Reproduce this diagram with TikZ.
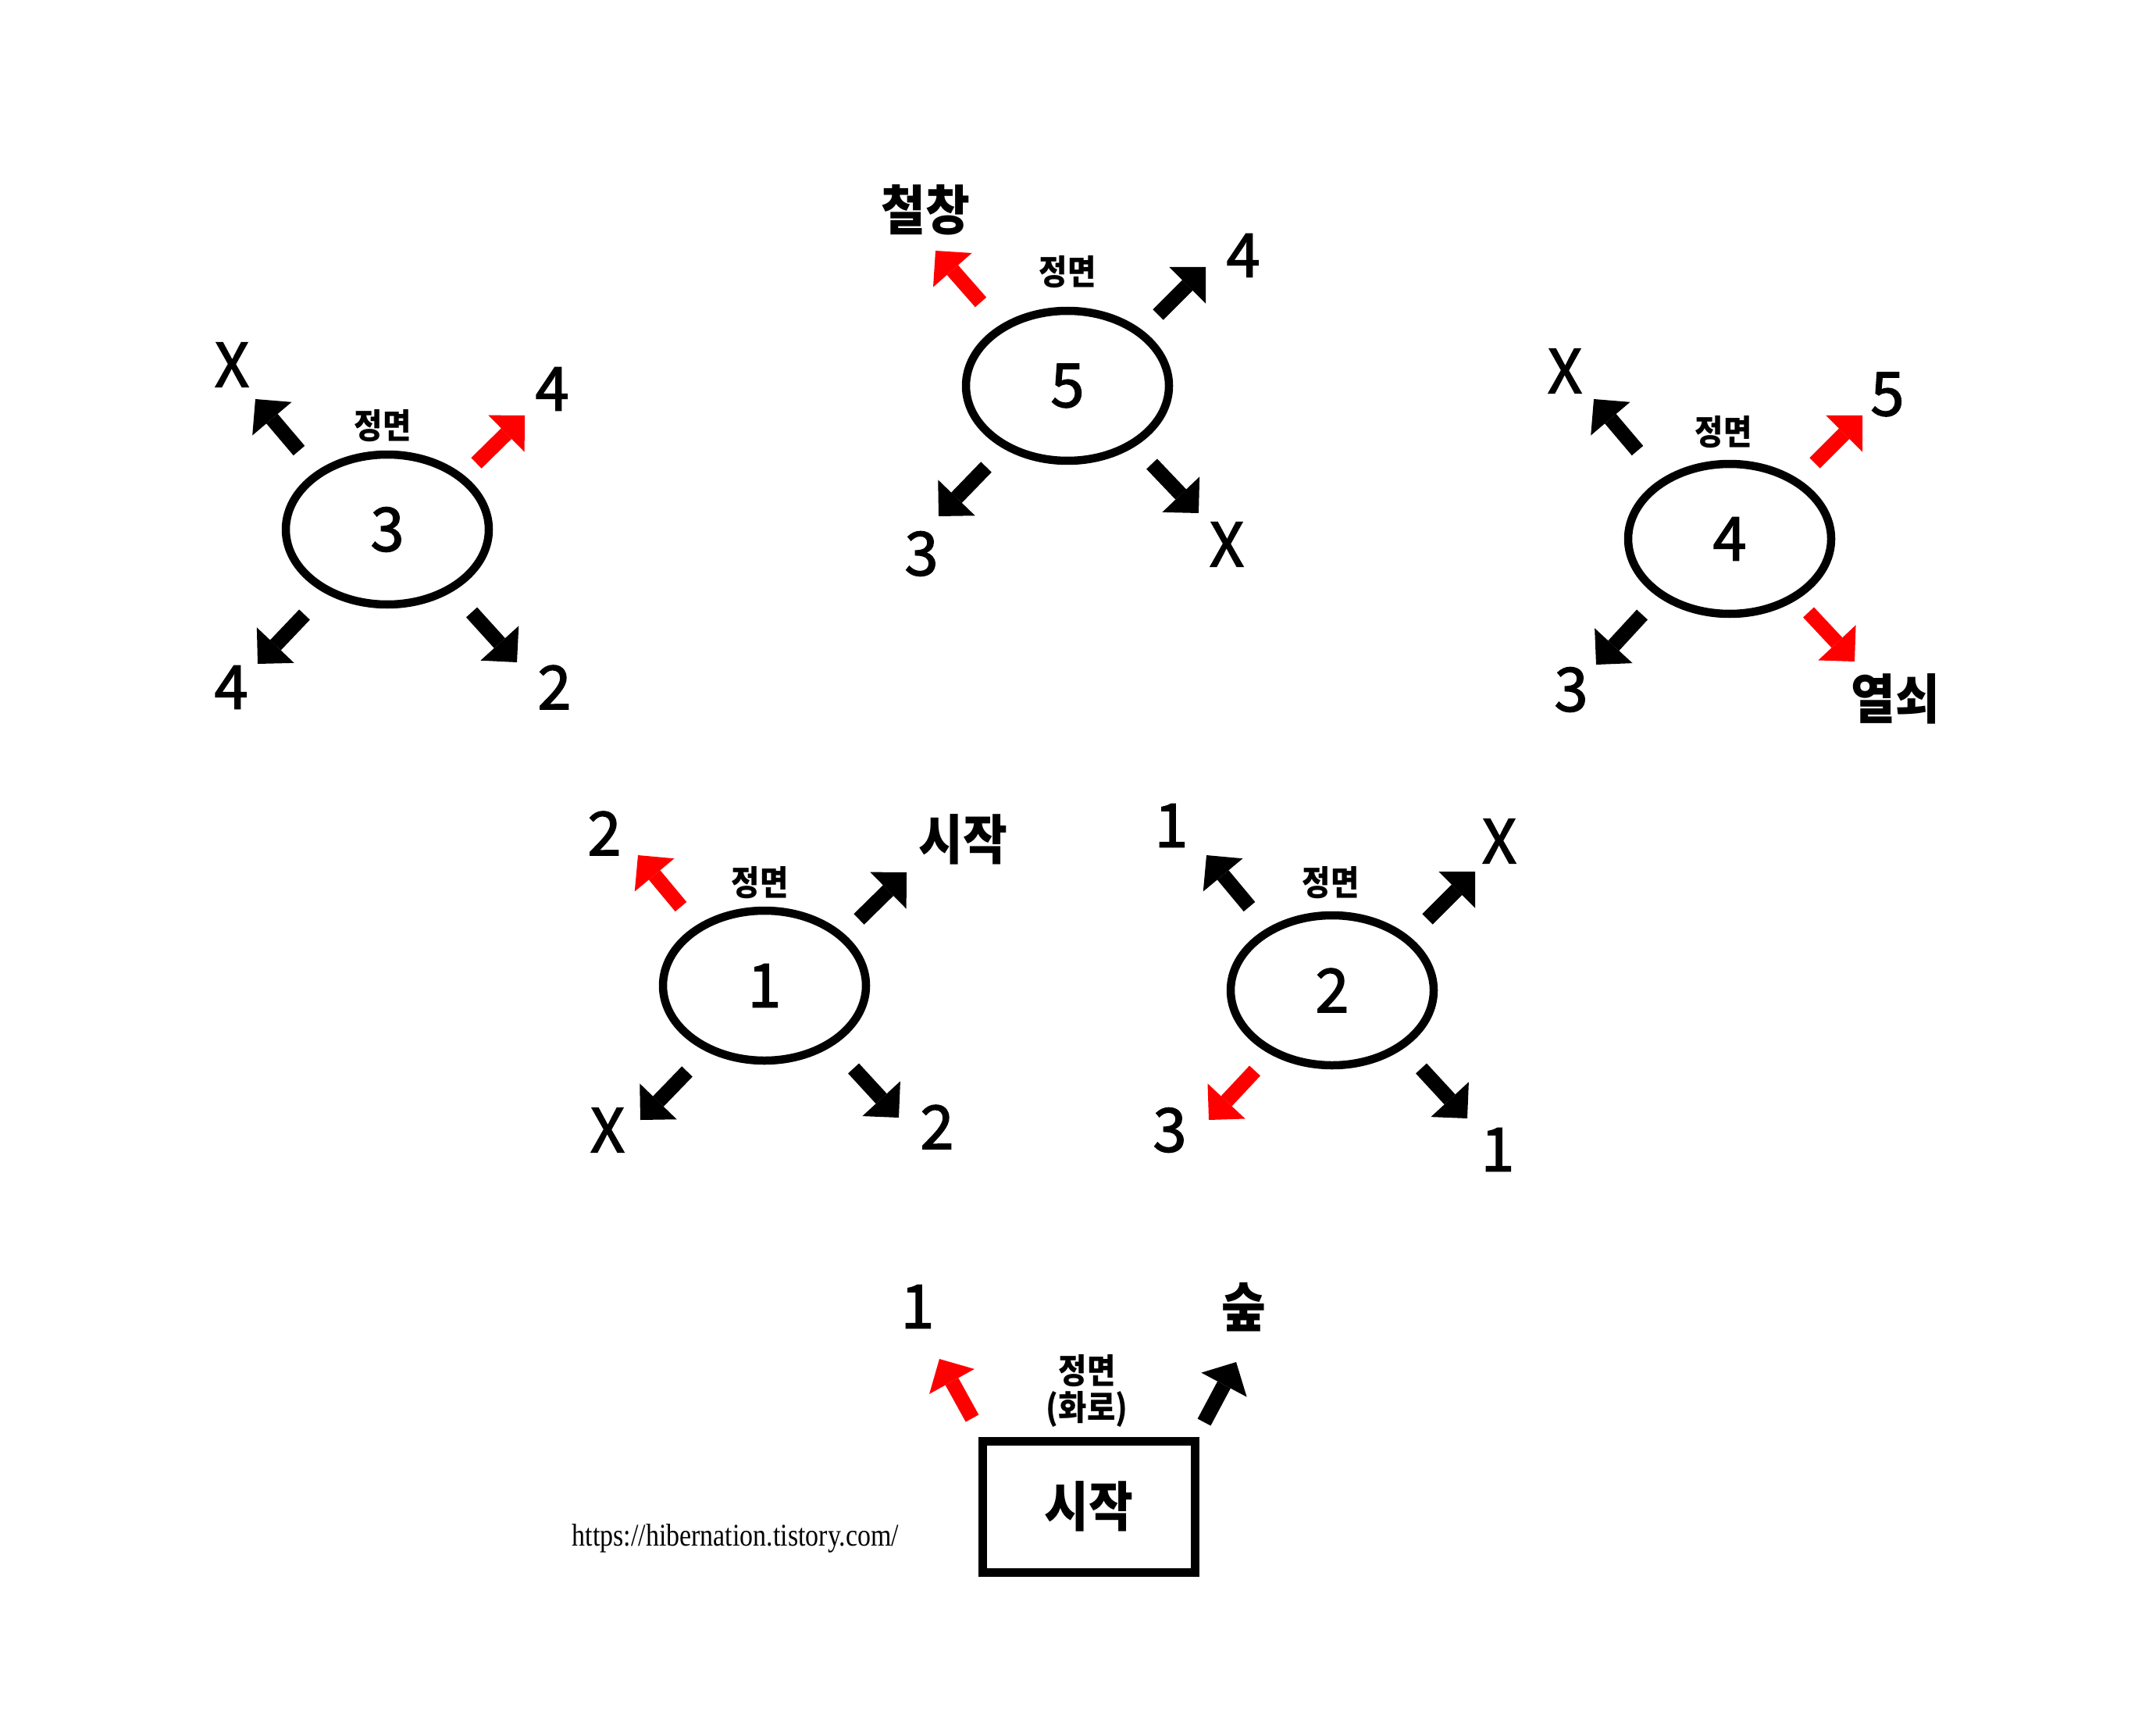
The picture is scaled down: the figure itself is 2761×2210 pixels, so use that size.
\documentclass[tikz,border=0pt]{standalone}
\usepackage{fontspec}
\setmainfont{Liberation Serif}
\newfontfamily\krnum{Noto Sans CJK KR}[FakeBold=2]
\newfontfamily\krw{Noto Sans CJK KR}[FakeStretch=0.9]
\usetikzlibrary{shapes.geometric,arrows.meta}
\begin{document}
\begin{tikzpicture}[x=0.1mm,y=-0.1mm,
  room/.style={draw, ellipse, line width=1.05mm, minimum width=26mm, minimum height=19.2mm, inner sep=0pt, font=\krnum\fontsize{22}{24}\selectfont},
  startbox/.style={draw, rectangle, line width=1.1mm, minimum width=27.2mm, minimum height=16.8mm, inner sep=0pt, font=\krw\bfseries\fontsize{19.5}{21}\selectfont},
  num/.style={inner sep=0pt, font=\krnum\fontsize{22}{24}\selectfont},
  word/.style={inner sep=0pt, font=\krw\bfseries\fontsize{19.5}{21}\selectfont},
  front/.style={inner sep=0pt, align=center, font=\krw\bfseries\fontsize{12.5}{13.5}\selectfont},
  barrow/.style={line width=1.9mm, -{Triangle[width=6.6mm,length=3.3mm,line width=0pt]}},
  rarrow/.style={barrow, red},
  url/.style={inner sep=0pt, font=\fontsize{11.5}{12}\selectfont}
]
\fill[white] (0,0) rectangle (2761,2210);
\useasboundingbox (0,0) rectangle (2761,2210);

% room 3
\node[room] (e3) at (496,678) {3};
\node[front] (f3) at (490,545) {정면};
\node[num] (l3a) at (297,467) {X};
\node[num] (l3b) at (707,498) {4};
\node[num] (l3c) at (296,880) {4};
\node[num] (l3d) at (710,880) {2};
\draw[barrow] ([shift={(-113,-101)}]e3.center) -- ([shift={(-169,-167)}]e3.center);
\draw[rarrow] ([shift={(114,-85)}]e3.center) -- ([shift={(176,-146)}]e3.center);
\draw[barrow] ([shift={(-106,109)}]e3.center) -- ([shift={(-166,172)}]e3.center);
\draw[barrow] ([shift={(108,106)}]e3.center) -- ([shift={(166,170)}]e3.center);

% room 5
\node[room] (e5) at (1367,494) {5};
\node[front] (f5) at (1367,348) {정면};
\node[word] (l5a) at (1185,269) {철창};
\node[num] (l5b) at (1592,327) {4};
\node[num] (l5c) at (1180,709) {3};
\node[num] (l5d) at (1571,697) {X};
\draw[rarrow] ([shift={(-111,-107)}]e5.center) -- ([shift={(-169,-173)}]e5.center);
\draw[barrow] ([shift={(116,-91)}]e5.center) -- ([shift={(177,-152)}]e5.center);
\draw[barrow] ([shift={(-104,104)}]e5.center) -- ([shift={(-165,167)}]e5.center);
\draw[barrow] ([shift={(108,100)}]e5.center) -- ([shift={(168,163)}]e5.center);

% room 4
\node[room] (e4) at (2215,690) {4};
\node[front] (f4) at (2207,553) {정면};
\node[num] (l4a) at (2004,475) {X};
\node[num] (l4b) at (2417,505) {5};
\node[num] (l4c) at (2012,883) {3};
\node[word] (l4d) at (2427,895) {열쇠};
\draw[barrow] ([shift={(-118,-113)}]e4.center) -- ([shift={(-174,-179)}]e4.center);
\draw[rarrow] ([shift={(109,-97)}]e4.center) -- ([shift={(170,-158)}]e4.center);
\draw[barrow] ([shift={(-112,97)}]e4.center) -- ([shift={(-171,161)}]e4.center);
\draw[rarrow] ([shift={(101,94)}]e4.center) -- ([shift={(160,157)}]e4.center);

% room 1
\node[room] (e1) at (979,1262) {1};
\node[front] (f1) at (973,1130) {정면};
\node[num] (l1a) at (774,1067) {2};
\node[word] (l1b) at (1233,1075) {시작};
\node[num] (l1c) at (778,1447) {X};
\node[num] (l1d) at (1200,1443) {2};
\draw[rarrow] ([shift={(-107,-101)}]e1.center) -- ([shift={(-162,-167)}]e1.center);
\draw[barrow] ([shift={(121,-85)}]e1.center) -- ([shift={(182,-145)}]e1.center);
\draw[barrow] ([shift={(-99,110)}]e1.center) -- ([shift={(-159,172)}]e1.center);
\draw[barrow] ([shift={(114,106)}]e1.center) -- ([shift={(172,169)}]e1.center);

% room 2
\node[room] (e2) at (1706,1268) {2};
\node[front] (f2) at (1704,1130) {정면};
\node[num] (l2a) at (1500,1057) {1};
\node[num] (l2b) at (1920,1077) {X};
\node[num] (l2c) at (1498,1447) {3};
\node[num] (l2d) at (1918,1472) {1};
\draw[barrow] ([shift={(-106,-107)}]e2.center) -- ([shift={(-161,-173)}]e2.center);
\draw[barrow] ([shift={(122,-91)}]e2.center) -- ([shift={(183,-152)}]e2.center);
\draw[rarrow] ([shift={(-99,103)}]e2.center) -- ([shift={(-158,166)}]e2.center);
\draw[barrow] ([shift={(114,100)}]e2.center) -- ([shift={(173,164)}]e2.center);

% start
\node[startbox] (s) at (1394,1929) {시작};
\node[front] (fs) at (1392,1781) {정면\\(화로)};
\node[num] (ls1) at (1175,1673) {1};
\node[word] (ls2) at (1593,1674) {숲};
\draw[rarrow] ([shift={(-149,-113)}]s.center) -- ([shift={(-191,-189)}]s.center);
\draw[barrow] ([shift={(148,-108)}]s.center) -- ([shift={(189,-185)}]s.center);

\node[url] (u) at (942,1970) {\scalebox{0.84}[1]{https://hibernation.tistory.com/}};
\end{tikzpicture}
\end{document}
